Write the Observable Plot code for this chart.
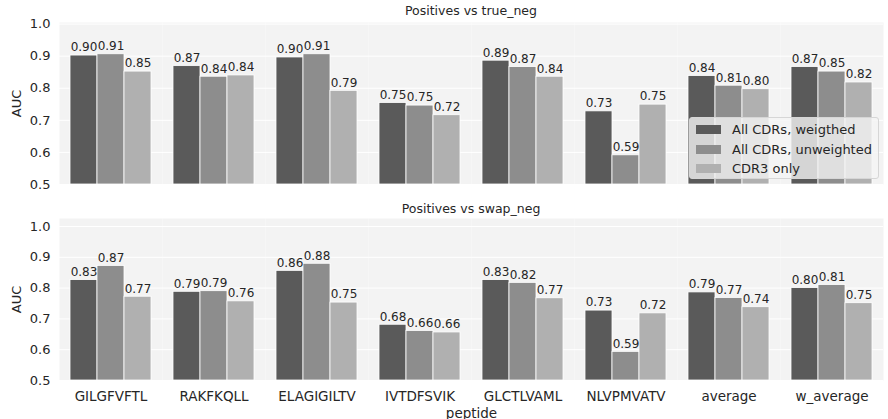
<!DOCTYPE html>
<html><head><meta charset="utf-8">
<script src="https://cdn.jsdelivr.net/npm/d3@7"></script>
<script src="https://cdn.jsdelivr.net/npm/@observablehq/plot@0.6"></script>
<style>
body{margin:0;background:#fff;font-family:"DejaVu Sans",sans-serif;}
#fig{position:relative;width:888px;height:419px;overflow:hidden;}
.title{position:absolute;left:56px;width:830px;height:16px;line-height:16px;text-align:center;font-size:12.5px;color:#262626;}
.panel{position:absolute;left:0;}
svg{display:block;overflow:visible;}
.legend{position:absolute;left:689px;top:117px;width:190px;height:62px;box-sizing:border-box;background:rgba(244,244,244,0.8);border:1px solid #d6d6d6;border-radius:3px;font-size:13px;color:#262626;}
.legend .row{position:absolute;left:6px;height:19px;line-height:19px;white-space:nowrap;}
.legend .sw{display:inline-block;width:25px;height:9px;vertical-align:middle;margin-right:11px;position:relative;top:-1px;}
</style></head><body><div id="fig"></div>
<script>
const peptides = ["GILGFVFTL","RAKFKQLL","ELAGIGILTV","IVTDFSVIK","GLCTLVAML","NLVPMVATV","average","w_average"];
const series = ["All CDRs, weigthed","All CDRs, unweighted","CDR3 only"];
const colors = ["#5a5a5a","#8d8d8d","#b0b0b0"];
const yTicks = [0.5,0.6,0.7,0.8,0.9,1.0];

// Positives vs true_neg
const trueNegWeighted   = [0.902,0.869,0.896,0.754,0.886,0.728,0.838,0.866];
const trueNegUnweighted = [0.906,0.836,0.906,0.746,0.866,0.591,0.808,0.852];
const trueNegCdr3       = [0.852,0.840,0.792,0.716,0.836,0.749,0.797,0.818];
// Positives vs swap_neg
const swapNegWeighted   = [0.826,0.788,0.856,0.681,0.826,0.727,0.786,0.800];
const swapNegUnweighted = [0.872,0.790,0.879,0.661,0.817,0.593,0.768,0.810];
const swapNegCdr3       = [0.772,0.757,0.753,0.656,0.767,0.718,0.738,0.751];

const yMin = 0.5;
const yMaxTop = 1.005;
const yMaxBottom = 1.026;

function rows(arrs){
  return peptides.flatMap((p,i)=>series.map((s,j)=>({peptide:p, series:s, value:arrs[j][i]})));
}

function panel(data, yMax, height, marginTop, marginBottom, showX){
  const marks = [
    Plot.frame({fill:"#f3f3f3", stroke:null}),
    Plot.gridY(yTicks, {stroke:"#ffffff", strokeOpacity:1, strokeWidth:1}),
    Plot.barY(data, {fx:"peptide", x:"series", y1:yMin, y2:"value", fill:"series", stroke:"#ffffff", strokeWidth:0.8}),
    Plot.text(data, {fx:"peptide", x:"series", y:"value", text:d=>d.value.toFixed(2), dy:-8, fontSize:12, fill:"#262626"}),
    Plot.axisY(yTicks, {tickSize:0, tickPadding:9, tickFormat:".1f", fontSize:13, label:"AUC", labelAnchor:"center", labelArrow:"none", labelOffset:48})
  ];
  const fx = showX
    ? {domain:peptides, paddingInner:0, paddingOuter:0, axis:"bottom", tickSize:0, tickPadding:11, label:"peptide", labelAnchor:"center", labelArrow:"none", labelOffset:37}
    : {domain:peptides, paddingInner:0, paddingOuter:0, axis:null};
  return Plot.plot({
    width:888, height, marginTop, marginBottom, marginLeft:56, marginRight:2,
    style:{fontFamily:"DejaVu Sans", fontSize:"13.5px", color:"#262626", background:"transparent", overflow:"visible"},
    fx,
    x:{domain:series, paddingInner:0, paddingOuter:0.375, axis:null},
    y:{domain:[yMin, yMax]},
    color:{domain:series, range:colors},
    marks
  });
}

const fig = document.getElementById("fig");
function addPanel(node, top){ const d=document.createElement("div"); d.className="panel"; d.style.top=top+"px"; d.appendChild(node); fig.appendChild(d); }
addPanel(panel(rows([trueNegWeighted,trueNegUnweighted,trueNegCdr3]), yMaxTop, 186, 22, 2, false), 0);
addPanel(panel(rows([swapNegWeighted,swapNegUnweighted,swapNegCdr3]), yMaxBottom, 233, 32, 39, true), 186);

function addTitle(text, top){ const t=document.createElement("div"); t.className="title"; t.style.top=top+"px"; t.textContent=text; fig.appendChild(t); }
addTitle("Positives vs true_neg", 3);
addTitle("Positives vs swap_neg", 201);

const lg = document.createElement("div"); lg.className="legend";
series.forEach((s,i)=>{
  const r = document.createElement("div"); r.className="row"; r.style.top = (2 + i*19.5) + "px";
  const sw = document.createElement("span"); sw.className="sw"; sw.style.background = colors[i];
  r.appendChild(sw); r.appendChild(document.createTextNode(s)); lg.appendChild(r);
});
fig.appendChild(lg);
</script></body></html>
